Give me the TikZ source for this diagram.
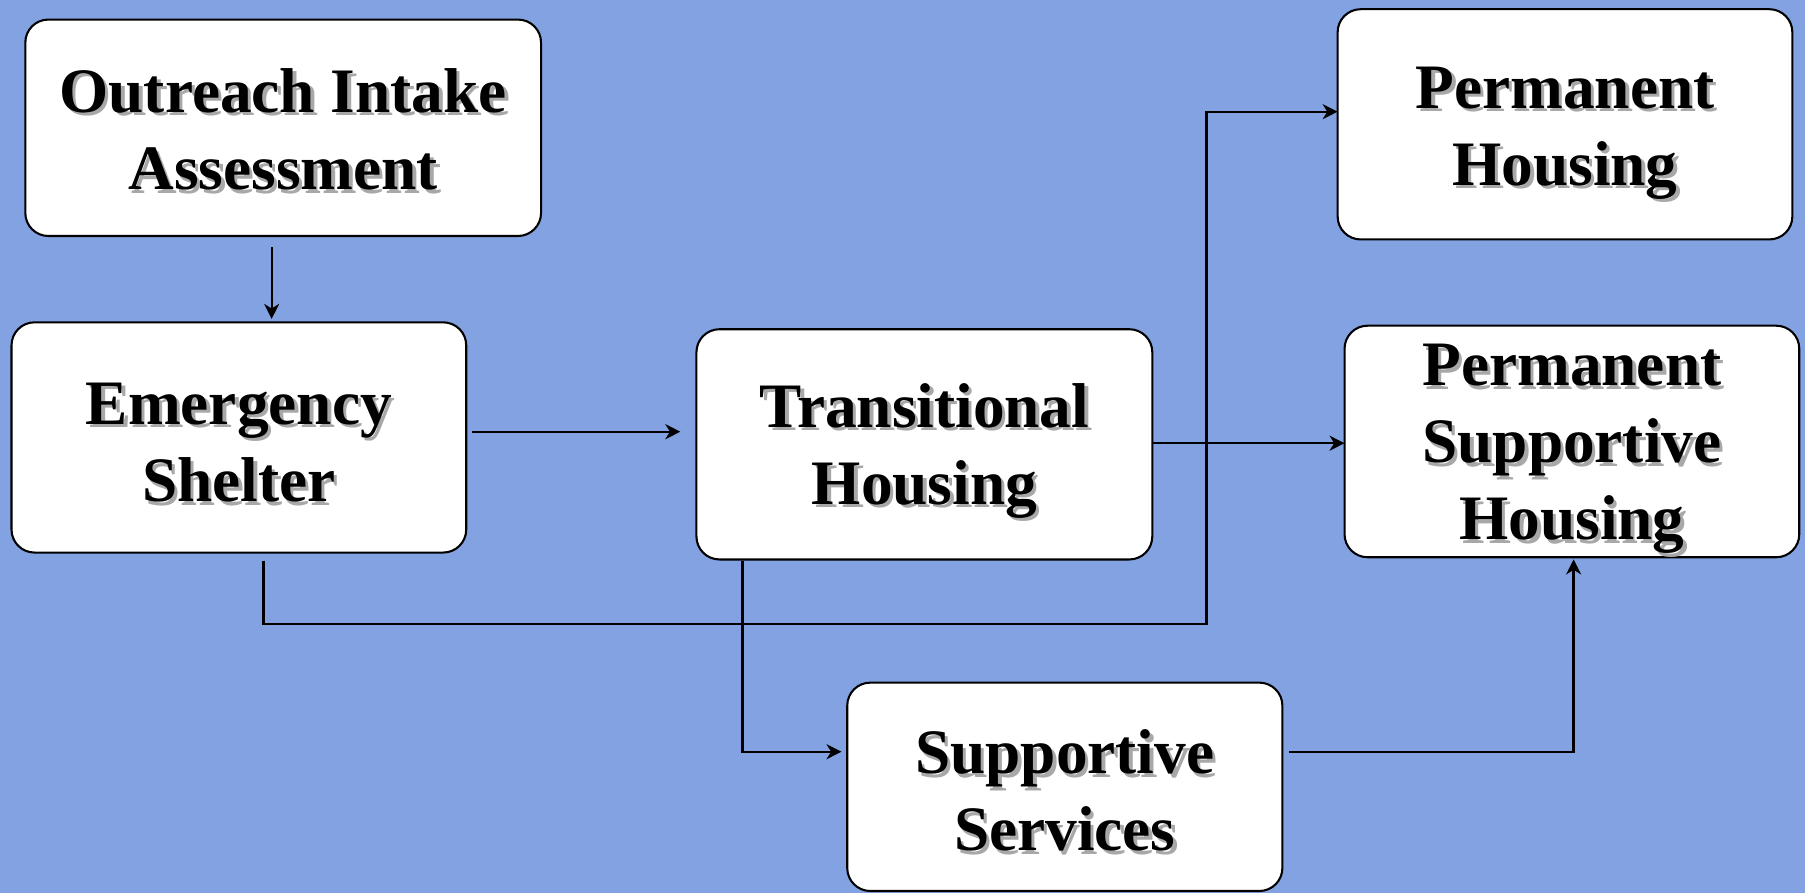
\documentclass[tikz,border=0pt]{standalone}
\usepackage{fontspec}
\setmainfont{Liberation Serif}
\usetikzlibrary{arrows.meta}
\definecolor{bgblue}{HTML}{82A2E1}
\definecolor{shadowgray}{HTML}{A8A8A8}
\newcommand{\sh}[1]{\makebox[0pt][l]{\raisebox{-3pt}{\hspace{3pt}\textcolor{shadowgray}{#1}}}#1}
\newcommand{\fl}[1]{\rule{0pt}{#1}}
\tikzset{
  box/.style={draw=black, line width=1.8pt, fill=white, rounded corners=20pt,
    align=center, inner sep=0pt, font=\fontsize{55}{67}\selectfont\bfseries},
  conn/.style={draw=black, line width=2pt},
  arr/.style={conn, -{Stealth[length=13pt,width=13pt,inset=4pt]}}
}
\begin{document}
\begin{tikzpicture}[x=1pt,y=-1pt]
\fill[bgblue] (0,0) rectangle (1568,776);
\useasboundingbox (0,0) rectangle (1568,776);

\node[box, minimum width=448pt, minimum height=188pt] (oia) at (246,111)
  {\fl{44pt}\sh{Outreach Intake}\\\sh{Assessment}};
\node[box, minimum width=395pt, minimum height=200pt] (es) at (207.5,380)
  {\fl{48pt}\sh{Emergency}\\\sh{Shelter}};
\node[box, minimum width=396pt, minimum height=200pt] (th) at (803,386)
  {\fl{52pt}\sh{Transitional}\\\sh{Housing}};
\node[box, minimum width=395pt, minimum height=200pt] (ph) at (1359.5,108)
  {\fl{54pt}\sh{Permanent}\\\sh{Housing}};
\node[box, minimum width=395pt, minimum height=201pt] (psh) at (1365.5,383.5)
  {\fl{52pt}\sh{Permanent}\\\sh{Supportive}\\\sh{Housing}};
\node[box, minimum width=378pt, minimum height=181pt] (ss) at (925,683.5)
  {\fl{48pt}\sh{Supportive}\\\sh{Services}};

\coordinate (a1) at (236,215);
\coordinate (a2) at (236,277);
\coordinate (b1) at (410,375);
\coordinate (b2) at (591,375);
\coordinate (c1) at (1001,385);
\coordinate (c2) at (1168,385);
\coordinate (d1) at (229,487);
\coordinate (d2) at (1048,542);
\coordinate (d3) at (1162,97);
\coordinate (e1) at (645,487);
\coordinate (e2) at (731,653);
\coordinate (f1) at (1120,653);
\coordinate (f2) at (1367,486);

\draw[arr] (a1) -- (a2);
\draw[arr] (b1) -- (b2);
\draw[arr] (c1) -- (c2);
\draw[arr] (d1) |- (d2) |- (d3);
\draw[arr] (e1) |- (e2);
\draw[arr] (f1) -| (f2);
\end{tikzpicture}
\end{document}
